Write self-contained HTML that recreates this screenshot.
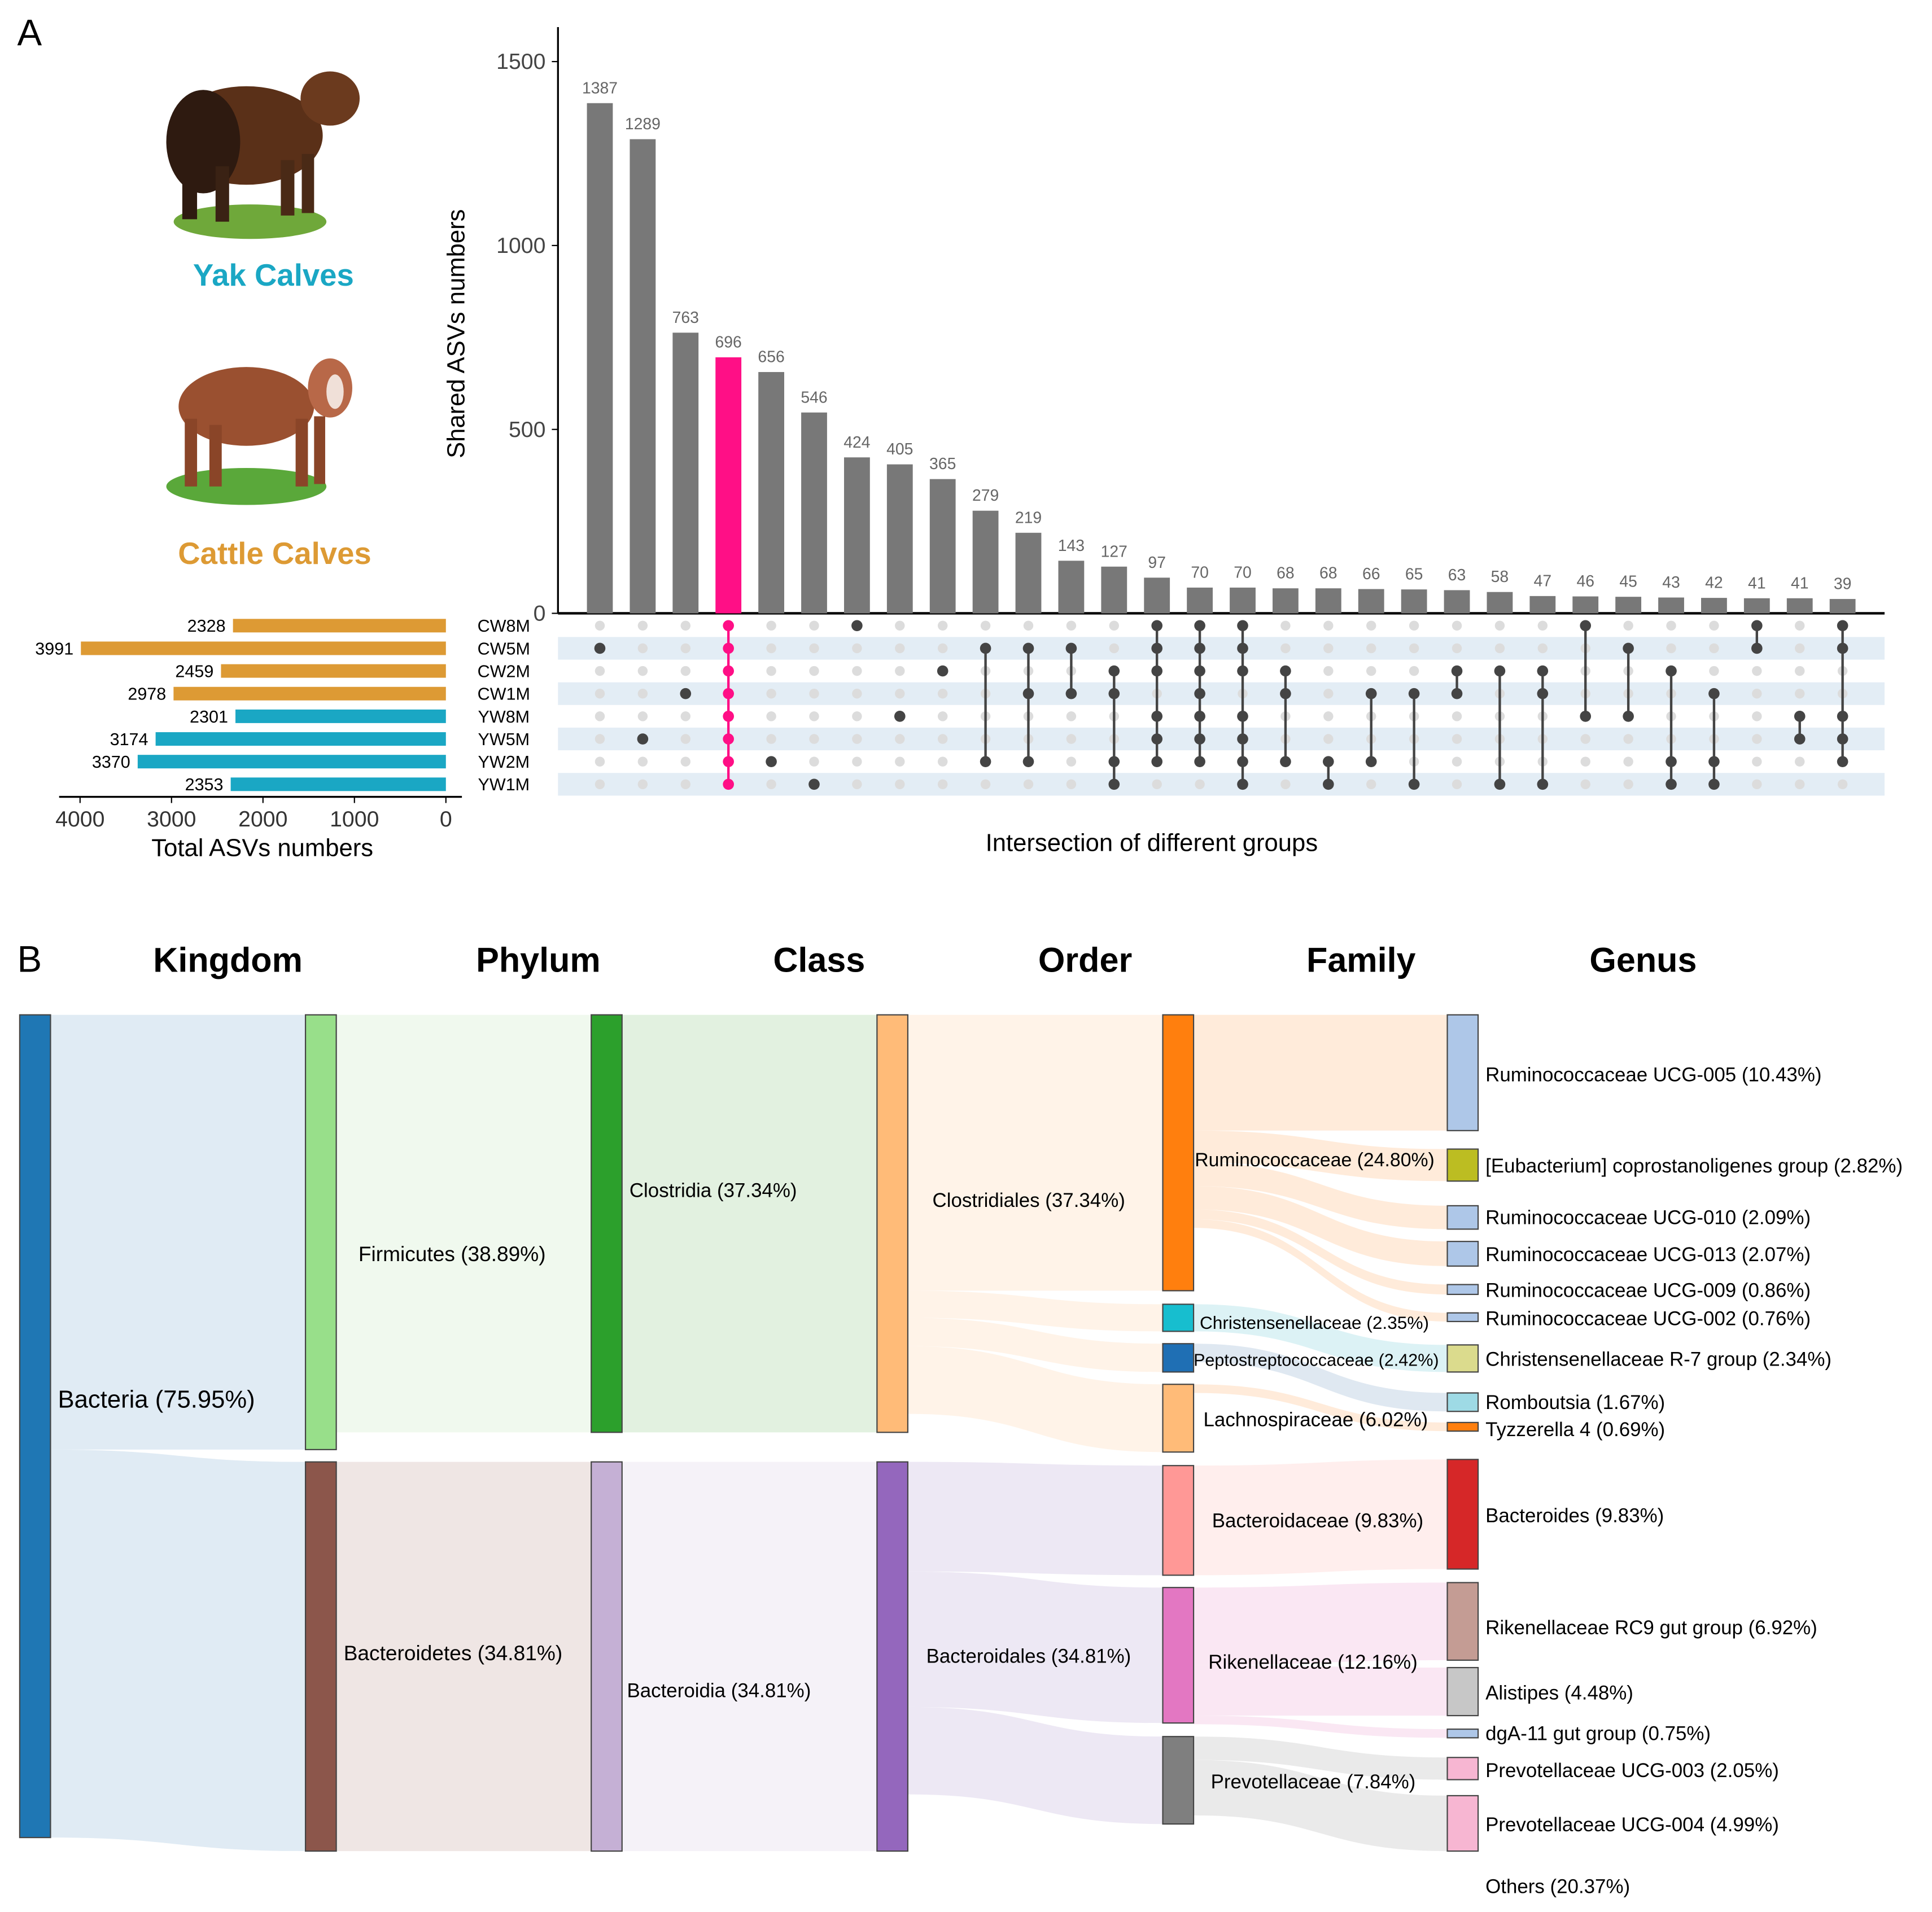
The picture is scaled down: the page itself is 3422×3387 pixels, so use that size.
<!DOCTYPE html>
<html><head><meta charset="utf-8">
<style>
html,body{margin:0;padding:0;background:#fff;}
svg{display:block;font-family:"Liberation Sans",Arial,sans-serif;}
</style></head>
<body>
<svg id="fig" width="3422" height="3387" viewBox="0 0 1568.5 1552.4" preserveAspectRatio="xMinYMin meet" xmlns="http://www.w3.org/2000/svg">
<text x="14" y="37" font-size="30">A</text>
<text x="14" y="789" font-size="30">B</text>
<g>
<ellipse cx="203" cy="180" rx="62" ry="14" fill="#6fa83a"/>
<ellipse cx="200" cy="110" rx="62" ry="40" fill="#5a3018"/>
<ellipse cx="165" cy="115" rx="30" ry="42" fill="#2e1a10"/>
<ellipse cx="268" cy="80" rx="24" ry="22" fill="#6b3a1e"/>
<rect x="148" y="130" width="12" height="48" fill="#2e1a10"/>
<rect x="175" y="135" width="11" height="45" fill="#3a2214"/>
<rect x="228" y="130" width="11" height="45" fill="#4a2a16"/>
<rect x="245" y="125" width="10" height="48" fill="#4a2a16"/>
</g>
<text x="222" y="232" font-size="25" font-weight="bold" fill="#1aa7c4" text-anchor="middle">Yak Calves</text>
<g>
<ellipse cx="200" cy="395" rx="65" ry="15" fill="#5aa83a"/>
<ellipse cx="200" cy="330" rx="55" ry="32" fill="#9a5030"/>
<ellipse cx="268" cy="315" rx="18" ry="24" fill="#b86848"/>
<ellipse cx="272" cy="318" rx="7" ry="14" fill="#f0e0d8"/>
<rect x="150" y="340" width="10" height="55" fill="#8a4528"/>
<rect x="170" y="345" width="10" height="50" fill="#8a4528"/>
<rect x="240" y="340" width="10" height="55" fill="#8a4528"/>
<rect x="255" y="338" width="9" height="55" fill="#8a4528"/>
</g>
<text x="223" y="458" font-size="25" font-weight="bold" fill="#dd9a34" text-anchor="middle">Cattle Calves</text>
<g id="upset"></g>
<g id="sankey"></g>
</svg>
<script>
const NS="http://www.w3.org/2000/svg";
const sets=["CW8M","CW5M","CW2M","CW1M","YW8M","YW5M","YW2M","YW1M"];
const setSizes=[2328,3991,2459,2978,2301,3174,3370,2353];
const setColors=["#dd9a34","#dd9a34","#dd9a34","#dd9a34","#1aa7c4","#1aa7c4","#1aa7c4","#1aa7c4"];
const interCounts=[1387,1289,763,696,656,546,424,405,365,279,219,143,127,97,70,70,68,68,66,65,63,58,47,46,45,43,42,41,41,39];
const interMembers=[[1],[5],[3],[0,1,2,3,4,5,6,7],[6],[7],[0],[4],[2],[1,6],[1,3,6],[1,3],[2,3,6,7],[0,1,2,4,5,6],[0,1,2,3,4,5,6],[0,1,2,4,5,6,7],[2,3,6],[6,7],[3,6],[3,7],[2,3],[2,7],[2,3,7],[0,4],[1,4],[2,6,7],[3,6,7],[0,1],[4,5],[0,1,4,5,6]];
const highlightIdx=[3];
const yTicks=[0,500,1000,1500];
const xTicksLeft=[4000,3000,2000,1000,0];

function el(tag,attrs,parent,text){const e=document.createElementNS(NS,tag);for(const k in attrs)e.setAttribute(k,attrs[k]);if(text!==undefined)e.textContent=text;parent.appendChild(e);return e;}
const U=document.getElementById('upset');
const yS=v=>498-v*448/1500;
const xS=i=>487+i*34.79;
const rowY=r=>508+r*18.4;
const xL=v=>362-v*297/4000;
sets.forEach((s,r)=>{if(r%2===1){const st=el('rect',{x:453,y:rowY(r)-9.2,width:1077,height:18.4,fill:'#e3edf5'},U);

}});
const ya=el('line',{x1:453,y1:22,x2:453,y2:498,stroke:'#000','stroke-width':1.5},U);


yTicks.forEach(t=>{el('line',{x1:448,x2:453,y1:yS(t),y2:yS(t),stroke:'#000'},U);
const tl=el('text',{x:443,y:yS(t)+6,'font-size':18,'text-anchor':'end',fill:'#444'},U,t);

});
const xa=el('line',{x1:453,y1:498,x2:1530,y2:498,stroke:'#000','stroke-width':2},U);


const yt=el('text',{x:0,y:0,'font-size':20,'text-anchor':'middle',transform:'translate(377,271) rotate(-90)'},U,'Shared ASVs numbers');


interCounts.forEach((v,i)=>{
 const hl=highlightIdx.includes(i);
 const b=el('rect',{x:xS(i)-10.5,y:yS(v),width:21,height:498-yS(v),fill:hl?'#ff0f86':'#787878'},U);
 
 
 const l=el('text',{x:xS(i),y:yS(v)-8,'font-size':13,'text-anchor':'middle',fill:'#666'},U,v);
 
 
 const m=interMembers[i];
 sets.forEach((s,r)=>{if(!m.includes(r)){const d=el('circle',{cx:xS(i),cy:rowY(r),r:4,fill:'#dcdcdc'},U);
 
 }});
 const col=hl?'#ff0f86':'#444';
 if(m.length>1){const ln=el('line',{x1:xS(i),x2:xS(i),y1:rowY(Math.min(...m)),y2:rowY(Math.max(...m)),stroke:col,'stroke-width':2},U);
 
 }
 m.forEach(r=>{const d=el('circle',{cx:xS(i),cy:rowY(r),r:4.5,fill:col},U);
 
 });
});
sets.forEach((s,r)=>{
 const b=el('rect',{x:xL(setSizes[r]),y:rowY(r)-5.5,width:362-xL(setSizes[r]),height:11,fill:setColors[r]},U);
 
 
 const v=el('text',{x:xL(setSizes[r])-6,y:rowY(r)+5,'font-size':14,'text-anchor':'end'},U,setSizes[r]);
 
 
 const n=el('text',{x:409,y:rowY(r)+5,'font-size':14,'text-anchor':'middle'},U,s);
 
 
});
const la=el('line',{x1:48,x2:375,y1:647,y2:647,stroke:'#000','stroke-width':1.5},U);


xTicksLeft.forEach(t=>{el('line',{x1:xL(t),x2:xL(t),y1:647,y2:652,stroke:'#000'},U);
const tl=el('text',{x:xL(t),y:671,'font-size':18,'text-anchor':'middle',fill:'#333'},U,t);

});
const lt=el('text',{x:213,y:695,'font-size':20,'text-anchor':'middle'},U,'Total  ASVs numbers');


const xt=el('text',{x:935,y:691,'font-size':20,'text-anchor':'middle'},U,'Intersection of different groups');



const S=document.getElementById('sankey');
const headers=["Kingdom","Phylum","Class","Order","Family","Genus"];
const headerX=[185,437,665,881,1105,1334];
const colX=[16,248,480,712,944,1175];
const nodes=[
["Bacteria (75.95%)",0,824,1492,"#1f77b4",47,1143,20],
["Firmicutes (38.89%)",1,824,1177,"#98df8a",291,1024,17],
["Bacteroidetes (34.81%)",1,1187,1503,"#8c564b",279,1348,17],
["Clostridia (37.34%)",2,824,1163,"#2ca02c",511,972,16],
["Bacteroidia (34.81%)",2,1187,1503,"#c5b0d5",509,1378,16],
["Clostridiales (37.34%)",3,824,1163,"#ffbb78",757,980,16],
["Bacteroidales (34.81%)",3,1187,1503,"#9467bd",752,1350,16],
["Ruminococcaceae (24.80%)",4,824,1048,"#ff7f0e",970,947,15.5],
["Christensenellaceae (2.35%)",4,1059,1081,"#17becf",974,1079,14.5],
["Peptostreptococcaceae (2.42%)",4,1091,1114,"#1f6fb4",969,1109,14],
["Lachnospiraceae (6.02%)",4,1124,1179,"#ffbb78",977,1158,16],
["Bacteroidaceae (9.83%)",4,1190,1279,"#ff9896",984,1240,16],
["Rikenellaceae (12.16%)",4,1289,1399,"#e377c2",981,1355,16],
["Prevotellaceae (7.84%)",4,1410,1481,"#7f7f7f",983,1452,16],
["Ruminococcaceae UCG-005 (10.43%)",5,824,918,"#aec7e8",1206,878,16],
["[Eubacterium] coprostanoligenes group (2.82%)",5,933,959,"#bcbd22",1206,952,16],
["Ruminococcaceae UCG-010 (2.09%)",5,979,998,"#aec7e8",1206,994,16],
["Ruminococcaceae UCG-013 (2.07%)",5,1008,1028,"#aec7e8",1206,1024,16],
["Ruminococcaceae UCG-009 (0.86%)",5,1043,1051,"#aec7e8",1206,1053,16],
["Ruminococcaceae UCG-002 (0.76%)",5,1066,1073,"#aec7e8",1206,1076,16],
["Christensenellaceae R-7 group (2.34%)",5,1092,1114,"#dbdb8d",1206,1109,16],
["Romboutsia (1.67%)",5,1131,1146,"#9edae5",1206,1144,16],
["Tyzzerella 4 (0.69%)",5,1155,1162,"#ff7f0e",1206,1166,16],
["Bacteroides (9.83%)",5,1185,1274,"#d62728",1206,1236,16],
["Rikenellaceae RC9 gut group (6.92%)",5,1285,1348,"#c49c94",1206,1327,16],
["Alistipes (4.48%)",5,1354,1393,"#c7c7c7",1206,1380,16],
["dgA-11 gut group (0.75%)",5,1404,1411,"#aec7e8",1206,1413,16],
["Prevotellaceae UCG-003 (2.05%)",5,1427,1445,"#f7b6d2",1206,1443,16],
["Prevotellaceae UCG-004 (4.99%)",5,1458,1503,"#f7b6d2",1206,1487,16]
];
const links=[
[0,1,824,1177,824,1177,"#dde9f3"],[0,2,1177,1492,1187,1503,"#dde9f3"],
[1,3,824,1163,824,1163,"#eef8ec"],[2,4,1187,1503,1187,1503,"#ede3e1"],
[3,5,824,1163,824,1163,"#dfefdd"],[4,6,1187,1503,1187,1503,"#f4f1f7"],
[5,7,824,1048,824,1048,"#fff2e5"],[5,8,1048,1070,1059,1081,"#fff2e5"],[5,9,1070,1093,1091,1114,"#fff2e5"],[5,10,1093,1148,1124,1179,"#fff2e5"],
[6,11,1187,1276,1190,1279,"#ebe6f3"],[6,12,1276,1386,1289,1399,"#ebe6f3"],[6,13,1386,1457,1410,1481,"#ebe6f3"],
[7,14,824,918,824,918,"#ffe9d6"],[7,15,918,944,933,959,"#ffe9d6"],[7,16,944,963,979,998,"#ffe9d6"],[7,17,963,982,1008,1028,"#ffe9d6"],[7,18,982,990,1043,1051,"#ffe9d6"],[7,19,990,997,1066,1073,"#ffe9d6"],
[8,20,1059,1081,1092,1114,"#d8f1f4"],[9,21,1091,1106,1131,1146,"#dbe6f0"],[10,22,1124,1131,1155,1162,"#ffe9d6"],
[11,23,1190,1279,1185,1274,"#ffeceb"],[12,24,1289,1352,1285,1348,"#f9e4f2"],[12,25,1352,1393,1354,1393,"#f9e4f2"],[12,26,1393,1400,1404,1411,"#f9e4f2"],
[13,27,1410,1429,1427,1445,"#e8e8e8"],[13,28,1429,1474,1458,1503,"#e8e8e8"]
];
headers.forEach((h,i)=>{const t=el('text',{x:headerX[i],y:789,'font-size':28,'font-weight':'bold','text-anchor':'middle'},S,h);

});
links.forEach(l=>{
 const x0=colX[nodes[l[0]][1]]+25, x1=colX[nodes[l[1]][1]], xm=(x0+x1)/2;
 const d=`M${x0},${l[2]} C${xm},${l[2]} ${xm},${l[4]} ${x1},${l[4]} L${x1},${l[5]} C${xm},${l[5]} ${xm},${l[3]} ${x0},${l[3]} Z`;
 const p=el('path',{d:d,fill:l[6],'fill-opacity':0.9},S);
 
 
});
nodes.forEach(n=>{
 const r=el('rect',{x:colX[n[1]],y:n[2],width:25,height:n[3]-n[2],fill:n[4],stroke:'#444','stroke-width':1},S);
 
 
 const t=el('text',{x:n[5],y:n[6],'font-size':n[7]},S,n[0]);
 
 
});
const oth=el('text',{x:1206,y:1537,'font-size':16},S,'Others (20.37%)');


</script>
</body></html>
